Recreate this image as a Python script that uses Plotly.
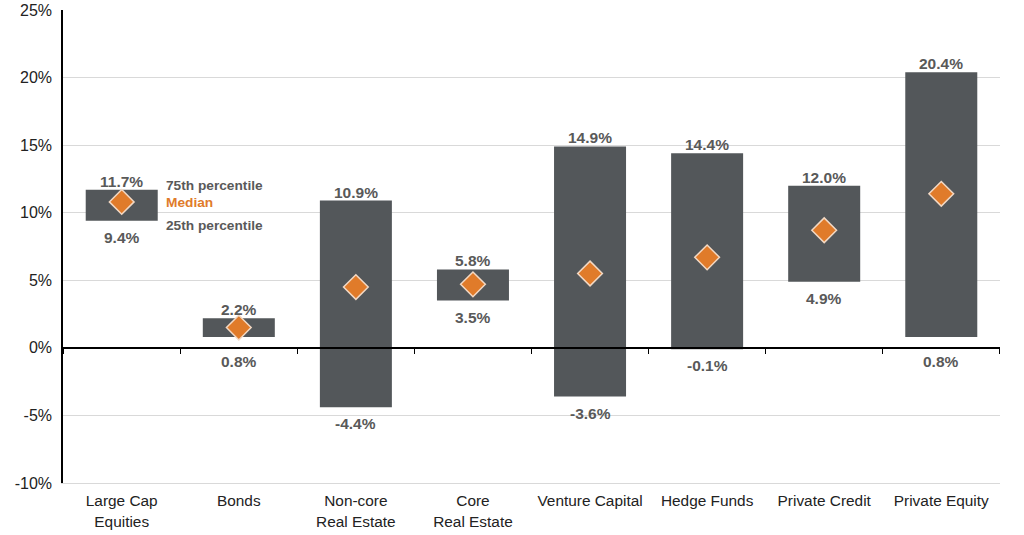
import plotly.graph_objects as go

categories = ["Large Cap<br>Equities", "Bonds", "Non-core<br>Real Estate", "Core<br>Real Estate",
              "Venture Capital", "Hedge Funds", "Private Credit", "Private Equity"]
p75 = [11.7, 2.2, 10.9, 5.8, 14.9, 14.4, 12.0, 20.4]
p25 = [9.4, 0.8, -4.4, 3.5, -3.6, -0.1, 4.9, 0.8]
median = [10.8, 1.5, 4.5, 4.7, 5.5, 6.7, 8.7, 11.4]
yticks = [-10, -5, 0, 5, 10, 15, 20, 25]

BAR = "#53575a"
ORANGE = "#e07b2a"
LABEL = "#595959"
FONT = "Liberation Sans, Arial, sans-serif"

fig = go.Figure()
fig.add_trace(go.Bar(
    x=categories, y=[a - b for a, b in zip(p75, p25)], base=p25,
    marker=dict(color=BAR, line=dict(width=0)), width=0.615, showlegend=False,
    hoverinfo="skip"))
fig.add_trace(go.Scatter(
    x=categories, y=median, mode="markers",
    marker=dict(symbol="diamond", size=19, color=ORANGE, line=dict(color="#f3d9c4", width=1.5)),
    showlegend=False, hoverinfo="skip"))
# zero-line axis with boundary ticks
fig.add_trace(go.Scatter(x=categories, y=[None] * len(categories), xaxis="x2", showlegend=False,
                         hoverinfo="skip"))

for c, v in zip(categories, p75):
    fig.add_annotation(x=c, y=v, text=f"{v:.1f}%", showarrow=False, yanchor="bottom", yshift=-2,
                       font=dict(size=15.5, color=LABEL, family=FONT, weight="bold"))
for c, v in zip(categories, p25):
    near_zero = 0 < v < 1.5  # keep labels clear of the zero line
    fig.add_annotation(x=c, y=0 if near_zero else v, text=f"{v:.1f}%", showarrow=False,
                       yanchor="top", yshift=-3 if near_zero else -6,
                       font=dict(size=15.5, color=LABEL, family=FONT, weight="bold"))

fig.update_layout(
    width=1024, height=535,
    margin=dict(l=63, r=24, t=10, b=52),
    plot_bgcolor="white", paper_bgcolor="white",
    font=dict(family=FONT, size=14, color="#222"),
    xaxis=dict(showgrid=False, showline=True, linecolor="#d9d9d9", linewidth=1,
               ticks="", ticklabelstandoff=4, tickfont=dict(size=15.4, color="#222"),
               automargin=False),
    xaxis2=dict(overlaying="x", anchor="free", position=(0 - (-10)) / 35, matches="x",
                showline=True, linecolor="black", linewidth=1.5, ticks="outside",
                tickson="boundaries", ticklen=5, tickcolor="black", showticklabels=False,
                showgrid=False, automargin=False),
    yaxis=dict(range=[-10, 25], tickvals=yticks, ticktext=[f"{v}%" for v in yticks],
               showgrid=True, gridcolor="#d9d9d9", gridwidth=1, zeroline=False,
               showline=True, linecolor="black", linewidth=1.5, ticks="",
               ticklabelstandoff=6, automargin=False,
               tickfont=dict(size=16, color="#222")),
)

fig.add_annotation(x=0, y=12.05, xref="x", yref="y", xshift=42, text="75th percentile", showarrow=False,
                   xanchor="left", font=dict(size=13.7, color=LABEL, family=FONT, weight="bold"))
fig.add_annotation(x=0, y=10.72, xref="x", yref="y", xshift=42, text="Median", showarrow=False,
                   xanchor="left", font=dict(size=13.7, color=ORANGE, family=FONT, weight="bold"))
fig.add_annotation(x=0, y=9.09, xref="x", yref="y", xshift=42, text="25th percentile", showarrow=False,
                   xanchor="left", font=dict(size=13.7, color=LABEL, family=FONT, weight="bold"))

fig.write_html("out.html", config={"displayModeBar": False},
               post_script="document.body.style.margin='0';document.body.style.overflow='hidden';")
